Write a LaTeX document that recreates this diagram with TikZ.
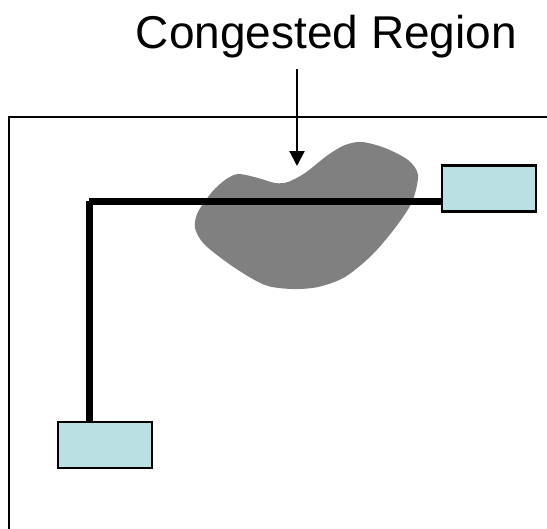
\documentclass[tikz,border=0pt]{standalone}
\usepackage{fontspec}
\setmainfont{Liberation Sans}
\usetikzlibrary{arrows.meta}
\definecolor{boxfill}{HTML}{BBE0E3}
\definecolor{blobgray}{HTML}{808080}
\tikzset{
  endbox/.style={draw=black, line width=1.6pt, fill=boxfill, minimum width=71pt, minimum height=34.5pt, inner sep=0pt},
  route/.style={line width=5.25pt, line cap=butt},
  frame/.style={line width=1.6pt},
  pointer/.style={line width=1.6pt, -{Triangle[width=11.25pt,length=11.25pt]}}
}
\begin{document}
\begin{tikzpicture}[x=0.75pt,y=-0.75pt]
\useasboundingbox (0,0) rectangle (547,529);
% outer frame
\draw[frame] (560,117) -- (9,117) -- (9,540);
% congested region blob
\fill[blobgray] plot[smooth cycle, tension=0.5] coordinates {
  (418,175) (412,202) (395,228) (372,255) (345,277) (318,287) (292,289)
  (265,285) (235,268) (205,245) (195,228) (198,212) (212,192) (225,180)
  (238,174) (258,178) (275,183) (288,182) (305,173) (328,155) (345,145)
  (362,142) (385,148) (408,160)};
% end boxes
\node[endbox] (rb) at (489,188.5) {};
\node[endbox] (lb) at (105,445) {};
% route
\coordinate (corner) at (89,201);
\draw[route] (corner) -- (rb.west |- corner);
\draw[route] (corner) -- (corner |- lb.north);
% label and arrow
\node[anchor=base, font=\fontsize{34.5pt}{40pt}\selectfont, inner sep=0pt] (lbl) at (326.5,48) {Congested Region};
\coordinate (astart) at (297,69);
\coordinate (aend) at (297,166);
\draw[pointer] (astart) -- (aend);
\end{tikzpicture}
\end{document}
